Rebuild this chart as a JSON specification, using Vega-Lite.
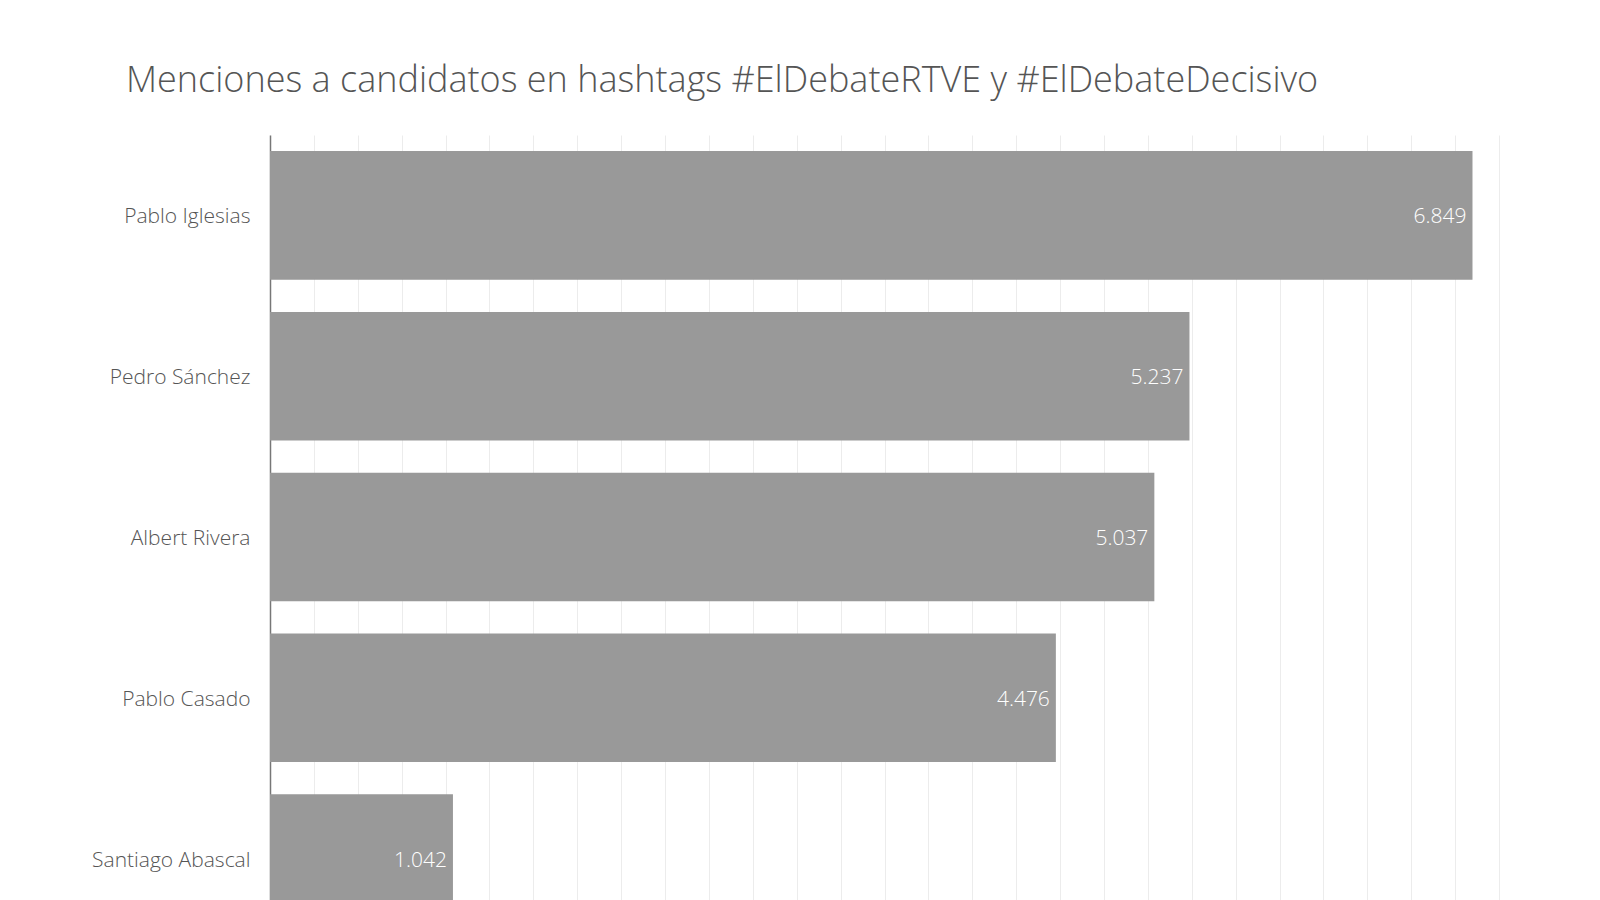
{
  "$schema": "https://vega.github.io/schema/vega-lite/v6.json",
  "autosize": "none",
  "padding": {"left": 270, "top": 135, "right": 101, "bottom": 0},
  "width": 1229,
  "height": 765,
  "background": "#ffffff",
  "title": {
    "text": "Menciones a candidatos en hashtags #ElDebateRTVE y #ElDebateDecisivo",
    "anchor": "start",
    "frame": "group",
    "dx": -144,
    "offset": 35,
    "font": "Open Sans",
    "fontSize": 36,
    "fontWeight": 300,
    "color": "#555555"
  },
  "data": {
    "values": [
      {"candidato": "Pablo Iglesias", "menciones": 6849},
      {"candidato": "Pedro Sánchez", "menciones": 5237},
      {"candidato": "Albert Rivera", "menciones": 5037},
      {"candidato": "Pablo Casado", "menciones": 4476},
      {"candidato": "Santiago Abascal", "menciones": 1042}
    ]
  },
  "encoding": {
    "y": {
      "field": "candidato",
      "type": "nominal",
      "sort": null,
      "title": null,
      "scale": {"range": [0, 804], "paddingInner": 0.2, "paddingOuter": 0.1},
      "axis": {
        "ticks": false,
        "labelPadding": 20,
        "labelOffset": 2,
        "labelFont": "Open Sans",
        "labelFontSize": 21,
        "labelFontWeight": 300,
        "labelColor": "#555555",
        "domainColor": "#777777",
        "domainWidth": 1.5,
        "grid": false
      }
    },
    "x": {
      "field": "menciones",
      "type": "quantitative",
      "title": null,
      "scale": {"domain": [0, 7000], "nice": false},
      "axis": {
        "orient": "top",
        "labels": false,
        "ticks": false,
        "domain": false,
        "grid": true,
        "gridColor": "#ececec",
        "gridWidth": 1,
        "values": [0, 250, 500, 750, 1000, 1250, 1500, 1750, 2000, 2250, 2500, 2750, 3000, 3250, 3500, 3750, 4000, 4250, 4500, 4750, 5000, 5250, 5500, 5750, 6000, 6250, 6500, 6750, 7000]
      }
    }
  },
  "layer": [
    {
      "mark": {"type": "bar", "color": "#999999", "clip": true}
    },
    {
      "mark": {
        "type": "text",
        "align": "right",
        "baseline": "middle",
        "dx": -6,
        "dy": 2,
        "color": "#ffffff",
        "font": "Open Sans",
        "fontSize": 21,
        "fontWeight": 300,
        "clip": true
      },
      "encoding": {
        "text": {"field": "menciones", "type": "quantitative", "format": ",d"}
      }
    }
  ],
  "config": {
    "view": {"stroke": null},
    "locale": {
      "number": {"decimal": ",", "thousands": ".", "grouping": [3], "currency": ["", " €"]}
    }
  }
}
